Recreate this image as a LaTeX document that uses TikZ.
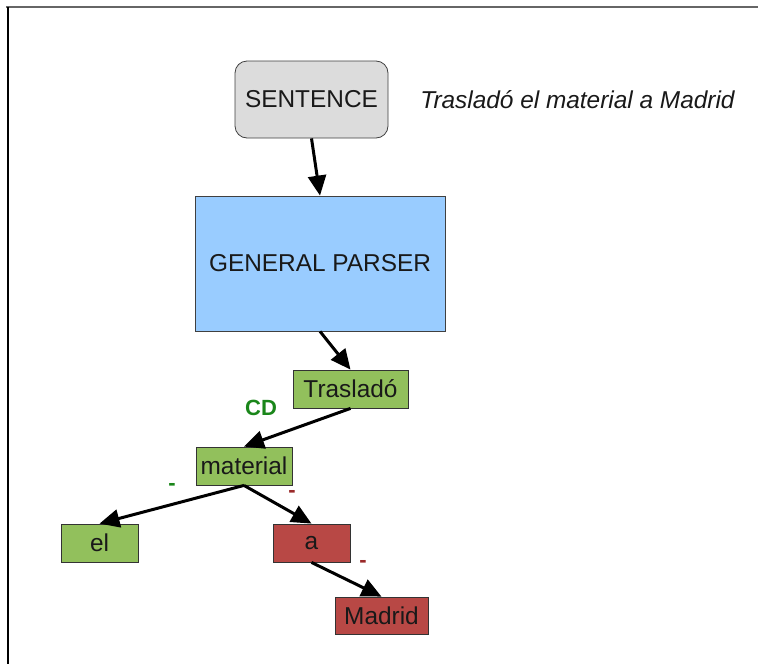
\documentclass[tikz,border=0pt]{standalone}
\usepackage{fontspec}
\setmainfont{Liberation Sans}
\usepackage{xcolor}
\usetikzlibrary{positioning,arrows.meta}
\definecolor{boxgray}{HTML}{DCDCDC}
\definecolor{parserblue}{HTML}{99CCFF}
\definecolor{wordgreen}{HTML}{92C05C}
\definecolor{wordred}{HTML}{B84845}
\definecolor{labgreen}{HTML}{1A861A}
\definecolor{labred}{HTML}{9A2A2A}
\tikzset{
  sentbox/.style={draw=black!75,rounded corners=6pt,fill=boxgray,minimum width=76.5pt,minimum height=38.5pt,font=\fontsize{12.2}{14}\selectfont,text=black!90},
  parserbox/.style={draw=black!75,fill=parserblue,minimum width=125pt,minimum height=67.5pt,font=\fontsize{12.2}{14}\selectfont,text=black!90},
  word/.style={draw=black!80,minimum height=19pt,inner sep=0pt,font=\fontsize{12.2}{14}\selectfont,text=black!90},
  okword/.style={word,fill=wordgreen},
  badword/.style={word,fill=wordred},
  arr/.style={-{Triangle[length=10pt,width=9pt]},line width=1.5pt},
  lab/.style={font=\bfseries\fontsize{11}{13}\selectfont,inner sep=0pt}
}
\begin{document}
\begin{tikzpicture}[x=0.5pt,y=-0.5pt]
\useasboundingbox (0,0) rectangle (758,664);
% frame
\draw[line width=1pt,black!60] (6,7) -- (758,7);
\draw[line width=1pt,black] (8,7) -- (8,664);

\node[sentbox] (sent) at (311.5,99.5) {SENTENCE};
\node[font=\itshape\fontsize{12.2}{14}\selectfont,text=black!90,anchor=west,inner sep=0pt] (example) at (420,100) {Trasladó el material a Madrid};
\node[parserbox] (parser) at (320,263.5) {GENERAL PARSER};

\node[okword, minimum width=57.5pt] (traslado) at (350.5,389) {Trasladó};
\node[okword, minimum width=48pt] (material) at (244,466) {material};
\node[okword, minimum width=38.5pt] (el) at (99.5,543) {el};
\node[badword, minimum width=38.5pt] (a) at (311.5,543) {a};
\node[badword, minimum width=46.5pt, minimum height=18.5pt] (madrid) at (381.5,615.5) {Madrid};

\draw[arr] (sent.south) -- (parser.north);
\draw[arr] (parser.south) -- (traslado.north);
\draw[arr] (traslado.south) -- (material.north);
\draw[arr] (material.south) -- (el.north);
\draw[arr] (material.south) -- (a.north);
\draw[arr] (a.south) -- (madrid.north);

% arc labels
\node[lab,text=labgreen] (cd) at (261,408) {CD};
\node[lab,text=labgreen] (elrel) at (172,487) {-};
\node[lab,text=labred] (arel) at (292,494) {-};
\node[lab,text=labred] (madridrel) at (363,564) {-};
\end{tikzpicture}
\end{document}
